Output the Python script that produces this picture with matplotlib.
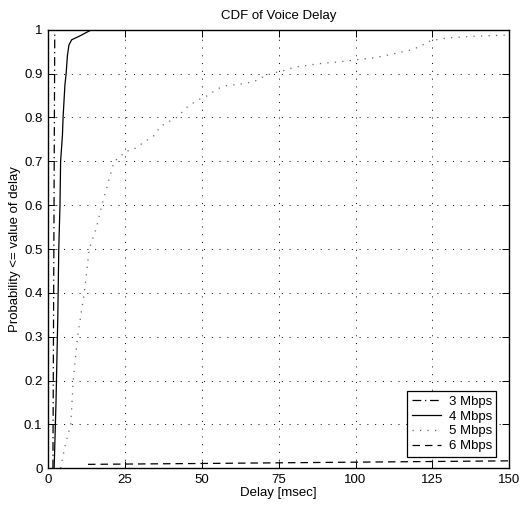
import matplotlib
matplotlib.use("Agg")
import matplotlib.pyplot as plt

plt.rcParams['font.family'] = ['Liberation Sans', 'DejaVu Sans']

# Data
x_3mbps = [1.6, 2.2]
y_3mbps = [0.0, 1.0]

x_4mbps = [2.0, 2.6, 3.2, 3.5, 3.9, 4.1, 4.7, 4.9, 5.5, 5.9, 6.3, 6.8, 7.7, 10.4, 14.2, 150.0]
y_4mbps = [0.0, 0.15, 0.35, 0.50, 0.60, 0.70, 0.76, 0.80, 0.874, 0.90, 0.94, 0.965, 0.977, 0.986, 1.0, 1.0]

x_5mbps = [4.1, 5.5, 7.4, 8.2, 9.6, 11.8, 13.4, 15.8, 17.5, 19.5, 21.5, 23.5, 25.0, 27.8, 31.5, 34.8,
           36.4, 40.2, 41.9, 45.6, 48.9, 51.6, 55.4, 57.6, 62.5, 66.8, 70.1, 73.3, 75.5, 79.8, 87.4,
           95.0, 99.9, 107.0, 112.4, 118.0, 121.6, 122.7, 125.4, 129.7, 138.4, 150.0]
y_5mbps = [0.0, 0.05, 0.10, 0.20, 0.30, 0.40, 0.50, 0.55, 0.60, 0.65, 0.70, 0.71, 0.722, 0.727, 0.745, 0.76,
           0.779, 0.794, 0.80, 0.826, 0.84, 0.849, 0.866, 0.872, 0.876, 0.881, 0.893, 0.902, 0.904, 0.914, 0.922,
           0.927, 0.931, 0.937, 0.945, 0.954, 0.963, 0.971, 0.976, 0.981, 0.985, 0.988]

x_6mbps = [13.0, 50.0, 100.0, 150.0]
y_6mbps = [0.009, 0.011, 0.014, 0.017]

labels = ['3 Mbps', '4 Mbps', '5 Mbps', '6 Mbps']
x_ticks = [0, 25, 50, 75, 100, 125, 150]
y_ticks = [0, 0.1, 0.2, 0.3, 0.4, 0.5, 0.6, 0.7, 0.8, 0.9, 1]
y_ticklabels = ['0', '0.1', '0.2', '0.3', '0.4', '0.5', '0.6', '0.7', '0.8', '0.9', '1']

fig = plt.figure(figsize=(5.21, 5.08), dpi=100)
ax = fig.add_axes([48/521, (508-468.3)/508, (509.3-48)/521, (468.3-29.7)/508])

ax.plot(x_3mbps, y_3mbps, color='black', linestyle=(0, (7, 3, 1, 3)), linewidth=0.9, label=labels[0])
ax.plot(x_4mbps, y_4mbps, color='black', linestyle='-', linewidth=0.9, label=labels[1])
ax.plot(x_5mbps, y_5mbps, color='0.4', linestyle=(0, (1, 5)), linewidth=0.9, label=labels[2])
ax.plot(x_6mbps, y_6mbps, color='black', linestyle=(0, (6, 4)), linewidth=0.9, label=labels[3])

ax.set_xlim(0, 150)
ax.set_ylim(0, 1)
ax.set_xticks(x_ticks)
ax.set_yticks(y_ticks)
ax.set_yticklabels(y_ticklabels)
ax.tick_params(direction='in', top=True, right=True, length=5, width=0.7, labelsize=9.5, pad=4)
ax.grid(True, color='black', linestyle=(0, (1, 7)), linewidth=0.7)
for s in ax.spines.values():
    s.set_linewidth(1.0)

ax.set_title('CDF of Voice Delay', fontsize=9.5, pad=8)
ax.set_xlabel('Delay [msec]', fontsize=9.5, labelpad=1)
ax.set_ylabel('Probability <= value of delay', fontsize=9.5, labelpad=2)

leg = ax.legend(loc='lower right', bbox_to_anchor=(0.972, 0.026), borderaxespad=0,
                fontsize=9.5, fancybox=False, framealpha=1, edgecolor='black',
                handlelength=2.2, handletextpad=0.6, labelspacing=0.2, borderpad=0.35)
leg.get_frame().set_linewidth(0.9)

fig.savefig('out.png', dpi=100)
